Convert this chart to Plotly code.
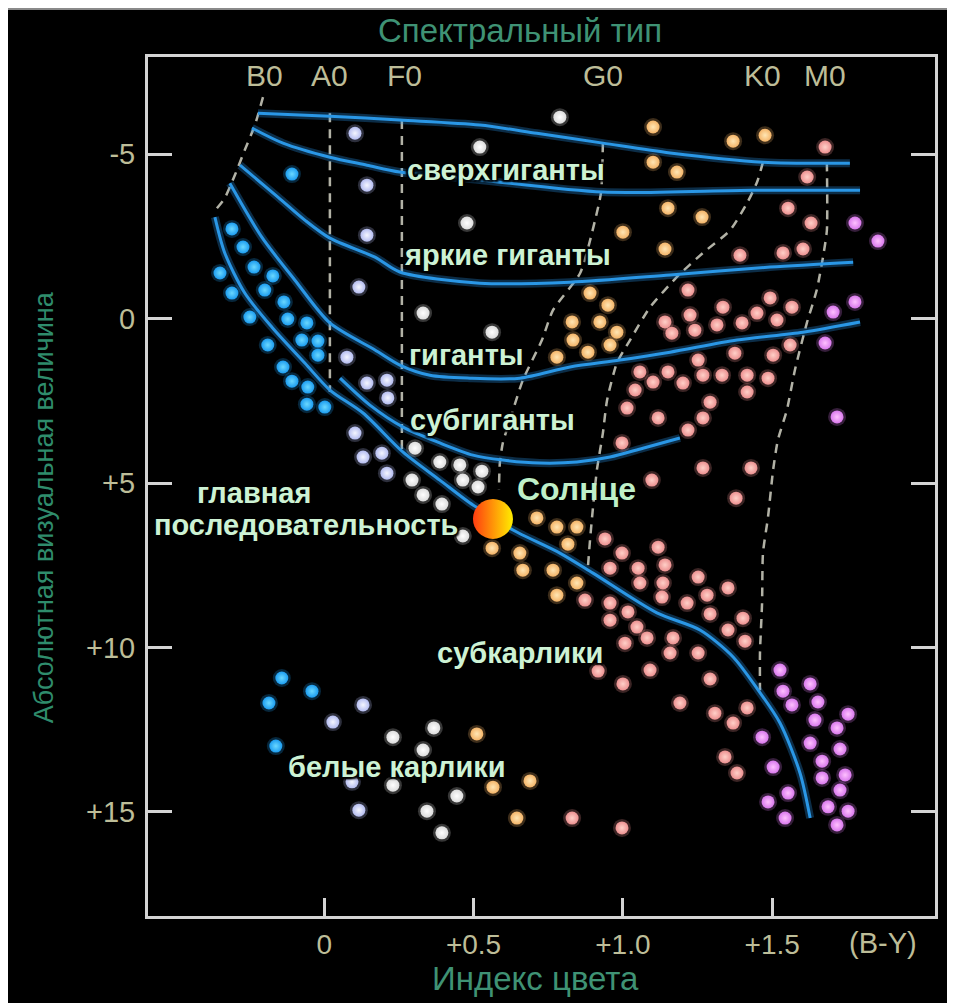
import plotly.graph_objects as go

# ---------------- data (B-V colour index, absolute visual magnitude) ----------------
blue_bv = [-0.108, -0.309, -0.272, -0.349, -0.235, -0.172, -0.309, -0.199, -0.135, -0.249, -0.122,
           -0.058, -0.075, -0.021, -0.189, -0.021, -0.138, -0.108, -0.055, -0.058, 0.002,
           -0.142, -0.041, -0.185, -0.162]
blue_mv = [-4.40, -2.73, -2.18, -1.39, -1.57, -1.30, -0.78, -0.87, -0.51, -0.05, 0.01,
           0.13, 0.65, 0.68, 0.80, 1.11, 1.47, 1.90, 2.08, 2.60, 2.69,
           10.93, 11.33, 11.69, 13.00]

lav_bv = [0.103, 0.143, 0.143, 0.116, 0.076, 0.143, 0.210, 0.213, 0.103, 0.130, 0.193, 0.210,
          0.130, 0.029, 0.093, 0.116]
lav_mv = [-5.64, -4.06, -2.54, -0.96, 1.17, 1.96, 1.87, 2.41, 3.48, 4.21, 4.09, 4.70,
          11.75, 12.27, 14.09, 14.95]

white_bv = [0.789, 0.521, 0.478, 0.331, 0.562, 0.304, 0.387, 0.454, 0.528, 0.294, 0.464, 0.515,
            0.331, 0.394, 0.464, 0.367, 0.230, 0.331, 0.230, 0.444, 0.344, 0.394]
white_mv = [-6.13, -5.22, -2.91, -0.17, 0.41, 3.94, 4.36, 4.45, 4.64, 4.91, 4.91, 5.12,
            5.36, 5.64, 6.61, 12.45, 12.73, 13.12, 14.19, 14.52, 14.98, 15.64]

peach_bv = [1.101, 1.101, 1.181, 1.369, 1.476, 1.151, 1.265, 1.000, 1.141, 0.890, 0.950, 0.830,
            0.923, 0.980, 0.833, 0.957, 0.883, 0.779,
            0.712, 0.779, 0.846, 0.816, 0.562, 0.655, 0.665, 0.766, 0.846, 0.779,
            0.511, 0.565, 0.689, 0.645]
peach_mv = [-5.83, -4.76, -4.46, -5.40, -5.58, -3.36, -3.09, -2.63, -2.12, -0.78, -0.41, 0.10,
            0.10, 0.41, 0.65, 0.80, 1.02, 1.17,
            6.06, 6.34, 6.34, 6.86, 6.98, 7.13, 7.65, 7.65, 8.04, 8.41,
            12.63, 14.25, 14.06, 15.19]

pink_giant_bv = [1.677, 1.617, 1.553, 1.630, 1.392, 1.536, 1.603, 1.218, 1.335, 1.493, 1.566,
                 1.449, 1.516, 1.225, 1.141, 1.315, 1.399, 1.164, 1.241, 1.560, 1.503, 1.375,
                 1.252, 1.057, 1.101, 1.151, 1.201, 1.268, 1.332, 1.416, 1.486, 1.416, 1.041,
                 1.014, 1.292, 1.118, 1.268, 1.218, 0.997, 1.268, 1.429, 1.097, 1.379]
pink_giant_mv = [-5.22, -4.31, -3.36, -2.91, -1.93, -2.00, -2.12, -0.87, -0.35, -0.63, -0.35,
                 -0.17, 0.04, -0.11, 0.10, 0.19, 0.13, 0.44, 0.35, 0.80, 1.11, 1.05,
                 1.26, 1.62, 1.93, 1.62, 1.96, 1.72, 1.72, 1.72, 1.81, 2.23, 2.17,
                 2.72, 2.54, 3.02, 3.02, 3.39, 3.78, 4.54, 4.54, 4.91, 5.46]
pink_dwarf_bv = [0.940, 0.997, 1.118, 0.957, 1.051, 1.141, 1.057, 1.134, 1.252, 1.352, 0.873,
                 0.957, 1.017, 1.131, 1.215, 1.282, 1.292, 1.402, 0.957, 1.047, 1.352, 1.081,
                 1.168, 1.409, 1.007, 1.158, 1.252, 0.917, 1.000, 1.091, 1.292, 1.191, 1.308,
                 1.369, 1.416, 1.342, 1.382, 0.830, 0.997]
pink_dwarf_mv = [6.70, 7.13, 6.95, 7.59, 7.59, 7.49, 8.04, 8.04, 7.86, 8.19, 8.56,
                 8.65, 8.92, 8.47, 8.65, 8.41, 8.98, 9.11, 9.17, 9.38, 9.47, 9.71,
                 9.71, 9.81, 9.87, 10.17, 10.17, 10.72, 11.11, 10.69, 10.96, 11.69, 12.00,
                 12.30, 11.84, 13.33, 13.82, 15.19, 15.49]

mag_bv = [1.777, 1.854, 1.777, 1.704, 1.677, 1.717,
          1.526, 1.536, 1.566, 1.627, 1.653, 1.643, 1.754, 1.717, 1.466, 1.627, 1.727,
          1.667, 1.503, 1.667, 1.744, 1.727, 1.553, 1.486, 1.687, 1.754, 1.543, 1.717]
mag_mv = [-2.91, -2.36, -0.51, -0.20, 0.74, 2.99,
          10.69, 11.33, 11.75, 11.11, 11.66, 12.21, 12.03, 12.45, 12.73, 12.91, 13.09,
          13.46, 13.64, 13.97, 13.88, 14.34, 14.43, 14.70, 14.85, 14.98, 15.19, 15.40]

sun_bv = [0.565]
sun_mv = [6.09]

# luminosity-class curves
sg_ia_bv = [-0.222, 0.019, 0.253, 0.521, 0.712, 0.933, 1.158, 1.469, 1.760]
sg_ia_mv = [-6.25, -6.16, -6.04, -5.89, -5.64, -5.34, -5.04, -4.76, -4.73]
sg_ib_bv = [-0.242, -0.138, 0.019, 0.143, 0.253, 0.521, 0.933, 1.436, 1.794]
sg_ib_mv = [-5.80, -5.34, -4.91, -4.67, -4.46, -4.22, -3.85, -3.91, -3.91]
bright_bv = [-0.282, -0.155, -0.065, 0.019, 0.170, 0.253, 0.521, 0.823, 1.158, 1.493, 1.771]
bright_mv = [-4.67, -3.70, -3.00, -2.45, -1.87, -1.42, -1.08, -1.11, -1.33, -1.57, -1.72]
giant_bv = [-0.316, -0.209, -0.098, 0.019, 0.170, 0.253, 0.354, 0.488, 0.655, 0.823, 0.990,
            1.158, 1.382, 1.603, 1.794]
giant_mv = [-4.12, -2.48, -1.17, 0.13, 0.95, 1.41, 1.72, 1.81, 1.81, 1.47, 1.26,
            1.02, 0.65, 0.41, 0.10]
subg_bv = [0.053, 0.153, 0.264, 0.387, 0.498, 0.598, 0.722, 0.846, 0.957, 1.067, 1.191]
subg_mv = [1.81, 2.63, 3.30, 3.78, 4.15, 4.30, 4.39, 4.36, 4.21, 3.94, 3.63]
ms_bv = [-0.366, -0.333, -0.266, -0.175, -0.065, 0.019, 0.130, 0.264, 0.387, 0.498, 0.572,
         0.632, 0.789, 0.900, 1.114, 1.258, 1.369, 1.453, 1.526, 1.593, 1.627]
ms_mv = [-3.09, -2.00, -0.78, 0.26, 1.35, 2.17, 2.87, 4.06, 4.91, 5.67, 6.06,
         6.43, 7.13, 7.74, 8.95, 9.47, 10.29, 11.30, 12.30, 13.82, 15.19]

# spectral-class boundaries (dashed)
bnd_b_bv = [-0.205, -0.232, -0.266, -0.299, -0.333, -0.373]
bnd_b_mv = [-6.74, -5.89, -5.13, -4.37, -3.67, -3.21]
bnd_a_bv = [0.019, 0.019]
bnd_a_mv = [-6.25, 2.23]
bnd_f_bv = [0.260, 0.260]
bnd_f_mv = [-6.04, 4.15]
bnd_g_bv = [0.933, 0.927, 0.907, 0.857, 0.766, 0.729, 0.665, 0.622, 0.598, 0.588, 0.585]
bnd_g_mv = [-5.34, -3.85, -3.00, -1.39, -0.26, 0.65, 1.87, 3.08, 3.78, 4.39, 5.21]
bnd_k_bv = [1.469, 1.449, 1.416, 1.359, 1.268, 1.181, 1.091, 1.024, 0.980, 0.947, 0.933,
            0.913, 0.900, 0.890, 0.883]
bnd_k_mv = [-4.76, -4.15, -3.52, -2.69, -2.00, -1.27, -0.35, 0.65, 1.35, 2.48, 3.48,
            4.60, 5.73, 6.73, 7.55]
bnd_m_bv = [1.683, 1.683, 1.670, 1.649, 1.616, 1.576, 1.549, 1.519, 1.503, 1.486, 1.469,
            1.466, 1.459, 1.459]
bnd_m_mv = [-4.76, -2.69, -1.87, -0.87, 0.13, 1.56, 2.78, 3.69, 4.60, 6.03, 7.13,
            8.65, 10.17, 11.30]

spec_labels = ["B0", "A0", "F0", "G0", "K0", "M0"]
spec_bv = [-0.199, 0.019, 0.270, 0.933, 1.469, 1.677]
spec_mv = -7.41

x_tickvals = [0, 0.5, 1.0, 1.5]
x_ticktext = ["0", "+0.5", "+1.0", "+1.5"]
y_tickvals = [-5, 0, 5, 10, 15]
y_ticktext = ["-5", "0", "+5", "+10", "+15"]

region_labels = ["сверхгиганты", "яркие гиганты", "гиганты", "субгиганты", "главная",
                 "последовательность", "субкарлики", "белые карлики"]
region_bv = [0.608, 0.615, 0.478, 0.565, -0.235, -0.061, 0.655, 0.244]
region_mv = [-4.52, -1.93, 1.11, 3.08, 5.30, 6.28, 10.17, 13.64]

# ---------------- figure ----------------
fig = go.Figure()

LINE_BLUE = "#2a97e6"
DASH_GREY = "#b2b2a6"

def add_curve(xs, ys):
    fig.add_trace(go.Scatter(x=xs, y=ys, mode="lines", line=dict(color="rgba(40,150,235,0.30)", width=8,
                                                                  shape="spline", smoothing=0.8),
                             hoverinfo="skip"))
    fig.add_trace(go.Scatter(x=xs, y=ys, mode="lines", line=dict(color=LINE_BLUE, width=3,
                                                                  shape="spline", smoothing=0.8),
                             hoverinfo="skip"))

def add_dash(xs, ys):
    fig.add_trace(go.Scatter(x=xs, y=ys, mode="lines",
                             line=dict(color=DASH_GREY, width=2.5, dash="9px,7px", shape="spline",
                                       smoothing=0.6),
                             hoverinfo="skip"))

for xs, ys in [(bnd_b_bv, bnd_b_mv), (bnd_a_bv, bnd_a_mv), (bnd_f_bv, bnd_f_mv),
               (bnd_g_bv, bnd_g_mv), (bnd_k_bv, bnd_k_mv), (bnd_m_bv, bnd_m_mv)]:
    add_dash(xs, ys)

for xs, ys in [(sg_ia_bv, sg_ia_mv), (sg_ib_bv, sg_ib_mv), (bright_bv, bright_mv),
               (giant_bv, giant_mv), (subg_bv, subg_mv), (ms_bv, ms_mv)]:
    add_curve(xs, ys)

def add_stars(xs, ys, edge, center, size=13):
    fig.add_trace(go.Scatter(x=xs, y=ys, mode="markers",
                             marker=dict(size=size + 5, color=edge, opacity=0.25, line=dict(width=0)),
                             hoverinfo="skip"))
    fig.add_trace(go.Scatter(x=xs, y=ys, mode="markers",
                             marker=dict(size=size, color=edge, line=dict(width=0),
                                         gradient=dict(type="radial", color=center)),
                             hoverinfo="skip"))

add_stars(blue_bv, blue_mv, "#1c9cf0", "#6ad8ff")
add_stars(lav_bv, lav_mv, "#b4bcf0", "#f4f6ff")
add_stars(white_bv, white_mv, "#dcdcdc", "#ffffff")
add_stars(peach_bv, peach_mv, "#f4b468", "#ffe6b4")
add_stars(pink_giant_bv + pink_dwarf_bv, pink_giant_mv + pink_dwarf_mv, "#ec9090", "#ffd0c8")
add_stars(mag_bv, mag_mv, "#d878ec", "#ffc0ff")

# the Sun
fig.add_trace(go.Scatter(x=sun_bv, y=sun_mv, mode="markers",
                         marker=dict(size=40, color="#ff3c10", line=dict(width=0),
                                     gradient=dict(type="horizontal", color="#ffee00")),
                         hoverinfo="skip"))

LABEL_FONT = "Liberation Sans, Arial, sans-serif"
LABEL_COLOR = "#cdf2d4"
SHADOW = "2px 2px 2px #000, -2px -2px 2px #000, 2px -2px 2px #000, -2px 2px 2px #000"
annotations = []
for t, xv, yv in zip(region_labels, region_bv, region_mv):
    annotations.append(dict(x=xv, y=yv, xref="x", yref="y", text=t, showarrow=False,
                            xanchor="center", yanchor="middle",
                            font=dict(family=LABEL_FONT, size=29, color=LABEL_COLOR,
                                      weight="bold", shadow=SHADOW)))
annotations.append(dict(x=0.846, y=5.18, xref="x", yref="y", text="Солнце", showarrow=False,
                        xanchor="center", yanchor="middle",
                        font=dict(family=LABEL_FONT, size=32, color="#bff0c8", weight="bold")))

TICK_COLOR = "#bdbd98"
for t, xv in zip(spec_labels, spec_bv):
    annotations.append(dict(x=xv, y=spec_mv, xref="x", yref="y", text=t, showarrow=False,
                            xanchor="center", yanchor="middle",
                            font=dict(family=LABEL_FONT, size=30, color=TICK_COLOR)))
annotations.append(dict(x=1.871, y=-0.031, xref="x", yref="paper", text="(B-Y)", showarrow=False,
                        xanchor="center", yanchor="middle",
                        font=dict(family=LABEL_FONT, size=29, color=TICK_COLOR)))

TITLE_COLOR = "#3f9274"
annotations.append(dict(x=0.473, y=1.031, xref="paper", yref="paper", text="Спектральный тип",
                        xanchor="center", yanchor="middle",
                        showarrow=False, font=dict(family=LABEL_FONT, size=33, color=TITLE_COLOR)))
annotations.append(dict(x=0.492, y=-0.073, xref="paper", yref="paper", text="Индекс цвета",
                        xanchor="center", yanchor="middle",
                        showarrow=False, font=dict(family=LABEL_FONT, size=33, color=TITLE_COLOR)))
annotations.append(dict(x=-0.132, y=0.476, xref="paper", yref="paper",
                        text="Абсолютная визуальная величина", textangle=-90,
                        xanchor="center", yanchor="middle",
                        showarrow=False, font=dict(family=LABEL_FONT, size=27, color="#2f8c6c")))

FRAME = "#d4d4d4"
fig.update_layout(
    width=947, height=995,
    paper_bgcolor="black", plot_bgcolor="black",
    margin=dict(l=140, r=20, t=49, b=87, autoexpand=False),
    showlegend=False,
    annotations=annotations,
    shapes=[
        dict(type="line", xref="paper", yref="paper", x0=-0.2, x1=1.03, y0=1.0559, y1=1.0559,
             line=dict(color="#8a8a8a", width=2), layer="above"),
    ],
    xaxis=dict(range=[-0.59, 2.045], showgrid=False, zeroline=False,
               showline=True, linecolor=FRAME, linewidth=3, mirror=True,
               ticks="inside", ticklen=18, tickwidth=3, tickcolor=FRAME,
               tickvals=x_tickvals, ticktext=x_ticktext, ticklabelstandoff=1,
               tickfont=dict(family=LABEL_FONT, size=28, color=TICK_COLOR)),
    yaxis=dict(range=[18.17, -7.96], showgrid=False, zeroline=False,
               showline=True, linecolor=FRAME, linewidth=3, mirror="ticks",
               ticks="inside", ticklen=24, tickwidth=3, tickcolor=FRAME,
               tickvals=y_tickvals, ticktext=y_ticktext, ticklabelstandoff=4,
               tickfont=dict(family=LABEL_FONT, size=29, color=TICK_COLOR)),
)

fig.write_html("out.html")
